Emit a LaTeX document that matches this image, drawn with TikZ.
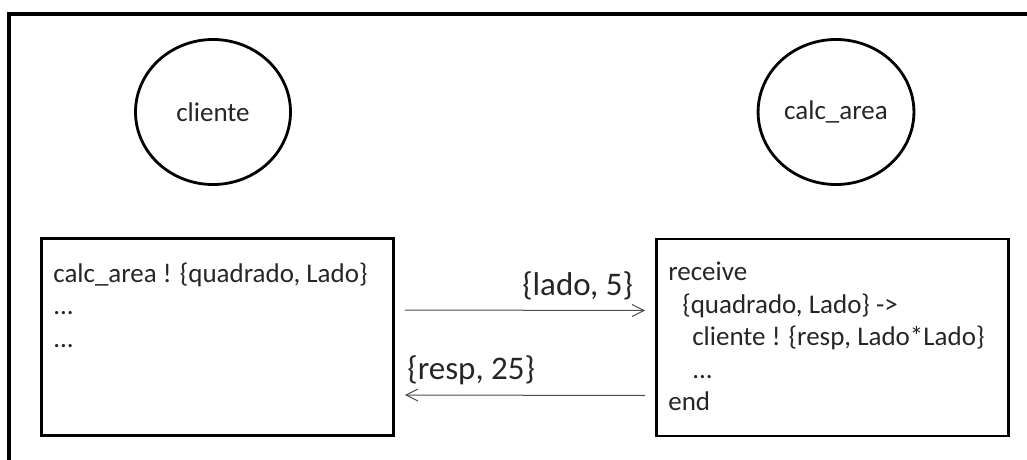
\documentclass[tikz,border=0pt]{standalone}
\usepackage{fontspec}
\setmainfont{Carlito}
\usetikzlibrary{shapes.geometric,arrows.meta}
\tikzset{
  proc/.style={draw,line width=2.8pt,ellipse,minimum width=155pt,minimum height=145pt,
    font=\fontsize{27}{32}\selectfont,text=black!85},
  codebox/.style={draw,line width=2.8pt,rectangle,minimum width=352pt,minimum height=197pt},
  code/.style={align=left,inner sep=0pt,anchor=north west,
    font=\fontsize{27}{32.5}\selectfont,text=black!85},
  msg/.style={draw=black!70,line width=1pt,-{Straight Barb[length=12pt,width=12pt]}},
  tag/.style={font=\fontsize{33}{38}\selectfont,text=black!85,inner sep=2pt,yshift=8pt}
}
\begin{document}
\begin{tikzpicture}[x=1pt,y=-1pt]
    \useasboundingbox (0,0) rectangle (1027,460);
    % frame
    \draw[line width=3.5pt] (9,470) -- (9,14) -- (1040,14);
    % processes
    \node[proc] (A0_0) at (213,112) {cliente};
    \node[proc] (A0_1) at (836,112) {calc\_area};
    \node[codebox] (A1_0) at (217.5,337) {};
    \node[codebox] (A1_1) at (832.5,337.5) {};
    \node[code] (T0) at ([xshift=13pt,yshift=-22pt]A1_0.north west)
      {\strut calc\_area ! \{quadrado, Lado\}\\...\\...};
    \node[code] (T1) at ([xshift=13pt,yshift=-20pt]A1_1.north west)
      {\strut receive\\
       \hspace*{14pt}\{quadrado, Lado\} ->\\
       \hspace*{24pt}cliente ! \{resp, Lado*Lado\}\\
       \hspace*{24pt}...\\
       end};
    % messages
    \path ([xshift=10pt,yshift=27pt]A1_0.east) edge [msg]
      node [tag,pos=0.96,anchor=south east] {\{lado, 5\}}
      ([xshift=-10pt,yshift=27pt]A1_1.west);
    \path ([xshift=-10pt,yshift=-58pt]A1_1.west) edge [msg]
      node [tag,pos=1,anchor=south west] {\{resp, 25\}}
      ([xshift=10pt,yshift=-58pt]A1_0.east);
\end{tikzpicture}
\end{document}
